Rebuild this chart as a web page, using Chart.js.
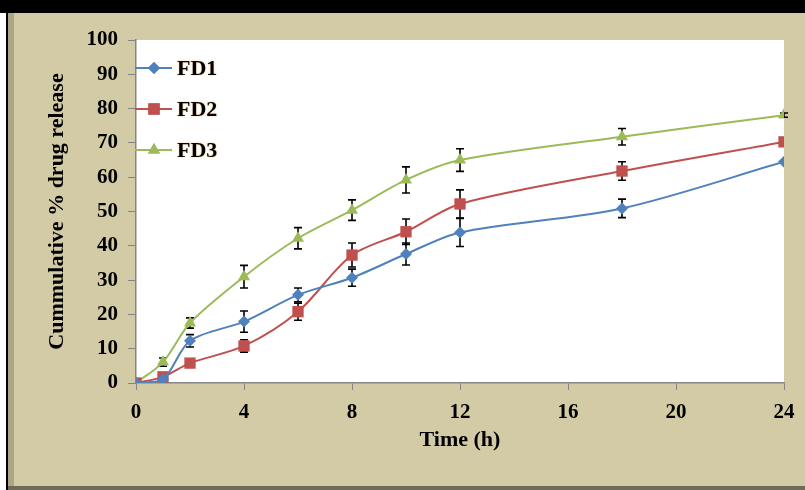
<!DOCTYPE html>
<html>
<head>
<meta charset="utf-8">
<script src="https://cdn.jsdelivr.net/npm/chart.js@4/dist/chart.umd.min.js"></script>
<style>
  html, body { margin: 0; padding: 0; background: #fff; }
  #wrap { width: 805px; height: 490px; }
</style>
</head>
<body>
<div id="wrap"><canvas id="chart" width="805" height="490"></canvas></div>
<script>
// time points (h)
const hours = [0, 1, 2, 4, 6, 8, 10, 12, 18, 24];

// cumulative % drug release
const fd1 = [0, 1, 12.3, 17.9, 25.7, 30.7, 37.6, 43.9, 50.9, 64.5];
const fd2 = [0, 1.8, 5.8, 10.8, 20.8, 37.3, 44.1, 52.2, 61.8, 70.3];
const fd3 = [0, 6.1, 17.5, 31, 42.2, 50.4, 59.2, 65, 71.8, 78.1];

// error bar half heights
const fd1Err = [0, 0, 1.8, 3.1, 2, 2.5, 3.2, 4.1, 2.7, 0];
const fd2Err = [0, 0, 0, 1.8, 2.5, 3.5, 3.7, 4.1, 2.7, 0];
const fd3Err = [0, 1.2, 1.5, 3.3, 3.1, 3, 3.8, 3.3, 2.4, 0.6];

const seriesNames = ['FD1', 'FD2', 'FD3'];
const colors = ['#4F81BD', '#C0504D', '#9BBB59'];
const markers = ['rectRot', 'rect', 'triangle'];
const markerSizes = [6, 8, 7];

const serif = "'Liberation Serif', 'Times New Roman', serif";

function toPoints(vals) {
  return hours.map((h, i) => ({ x: h, y: vals[i] }));
}

// background frame + white plot area
const framePlugin = {
  id: 'frame',
  beforeDraw(chart) {
    const { ctx, chartArea: a, width, height } = chart;
    ctx.save();
    ctx.fillStyle = '#ffffff';
    ctx.fillRect(0, 0, width, height);
    ctx.fillStyle = '#D3CBA6';
    ctx.fillRect(8, 13, width - 8, height - 13);
    ctx.fillStyle = '#ADA685';
    ctx.fillRect(8, 13, 6, height - 13);
    ctx.fillStyle = '#6F6B5A';
    ctx.fillRect(8, height - 4, width - 8, 4);
    ctx.fillStyle = '#000000';
    ctx.fillRect(0, 0, width, 13);
    ctx.fillRect(6, 13, 2, height - 13);
    ctx.fillStyle = '#ffffff';
    ctx.fillRect(a.left, a.top, a.right - a.left, a.bottom - a.top);
    ctx.restore();
  }
};

// error bars
const errorPlugin = {
  id: 'errorBars',
  beforeDatasetsDraw(chart) {
    const { ctx, scales: { x, y } } = chart;
    const errs = [fd1Err, fd2Err, fd3Err];
    const vals = [fd1, fd2, fd3];
    ctx.save();
    ctx.strokeStyle = '#000';
    ctx.lineWidth = 1.6;
    errs.forEach((e, s) => {
      hours.forEach((h, i) => {
        if (!e[i]) return;
        const px = x.getPixelForValue(h);
        const top = y.getPixelForValue(vals[s][i] + e[i]);
        const bot = y.getPixelForValue(vals[s][i] - e[i]);
        ctx.beginPath();
        ctx.moveTo(px, top); ctx.lineTo(px, bot);
        ctx.moveTo(px - 4, top); ctx.lineTo(px + 4, top);
        ctx.moveTo(px - 4, bot); ctx.lineTo(px + 4, bot);
        ctx.stroke();
      });
    });
    ctx.restore();
  }
};

// legend inside the plot area
const legendPlugin = {
  id: 'innerLegend',
  afterDraw(chart) {
    const { ctx, chartArea: a } = chart;
    const rows = [28, 69, 110];
    ctx.save();
    seriesNames.forEach((name, i) => {
      const yy = a.top + rows[i];
      ctx.strokeStyle = colors[i];
      ctx.lineWidth = 2;
      ctx.beginPath();
      ctx.moveTo(a.left - 1, yy);
      ctx.lineTo(a.left + 36, yy);
      ctx.stroke();
      ctx.fillStyle = colors[i];
      Chart.helpers.drawPoint(ctx, { pointStyle: markers[i], radius: markerSizes[i], borderWidth: 0 }, a.left + 18, yy);
      ctx.fill();
      ctx.font = 'bold 22px ' + serif;
      ctx.textBaseline = 'middle';
      ctx.shadowColor = 'rgba(235,160,60,0.7)';
      ctx.shadowBlur = 2;
      ctx.fillStyle = '#000';
      ctx.fillText(name, a.left + 41, yy + 1);
      ctx.shadowBlur = 0;
      ctx.shadowColor = 'transparent';
    });
    ctx.restore();
  }
};

const datasets = [fd1, fd2, fd3].map((vals, i) => ({
  label: seriesNames[i],
  data: toPoints(vals),
  borderColor: colors[i],
  backgroundColor: colors[i],
  borderWidth: 2,
  pointStyle: markers[i],
  pointRadius: markerSizes[i],
  pointBorderWidth: 0,
  tension: 0.3,
  fill: false
}));

new Chart(document.getElementById('chart'), {
  type: 'line',
  data: { datasets },
  plugins: [framePlugin, errorPlugin, legendPlugin],
  options: {
    responsive: false,
    animation: false,
    layout: { padding: { left: 14, top: 40, right: 21, bottom: 0 } },
    plugins: { legend: { display: false }, tooltip: { enabled: false } },
    scales: {
      x: {
        type: 'linear',
        min: 0, max: 24,
        afterFit: s => { s.height = 107; },
        ticks: { stepSize: 4, color: '#000', padding: 10, font: { family: serif, size: 21, weight: 'bold' } },
        grid: { drawOnChartArea: false, color: '#868686', tickLength: 7, tickColor: '#868686' },
        border: { color: '#868686', width: 1.5 },
        title: { display: true, text: 'Time (h)', color: '#000', padding: { top: 0, bottom: 36 }, font: { family: serif, size: 22, weight: 'bold' } }
      },
      y: {
        min: 0, max: 100,
        afterFit: s => { s.width = 122; },
        ticks: { stepSize: 10, color: '#000', padding: 10, font: { family: serif, size: 21, weight: 'bold' } },
        grid: { drawOnChartArea: false, color: '#868686', tickLength: 8, tickColor: '#868686' },
        border: { color: '#868686', width: 1.5 },
        title: { display: true, text: 'Cummulative % drug release', color: '#000', padding: { top: 30, bottom: 0 }, font: { family: serif, size: 22, weight: 'bold' } }
      }
    }
  }
});
</script>
</body>
</html>
